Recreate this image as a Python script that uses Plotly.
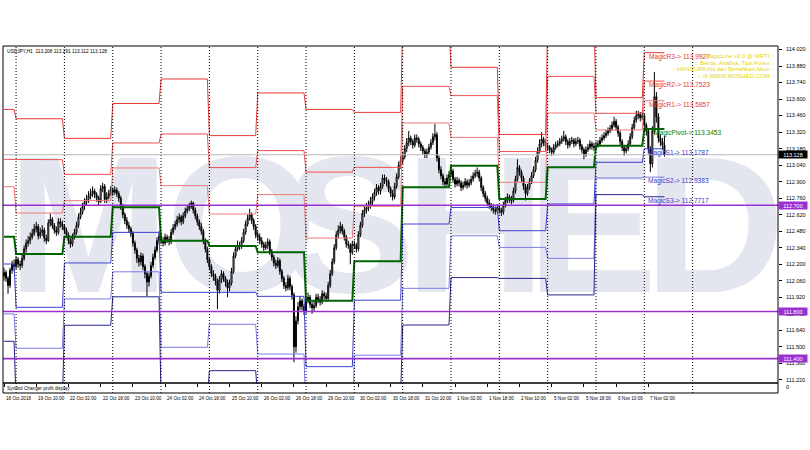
import plotly.graph_objects as go

# ---------------- data (USDJPY H1, one entry per hourly bar) ----------------
bar_open = [
112.10,112.13,112.08,112.02,112.15,112.20,112.18,112.24,112.20,112.19,
112.25,112.33,112.38,112.40,112.43,112.46,112.50,112.52,112.44,112.47,
112.49,112.42,112.40,112.55,112.58,112.53,112.49,112.47,112.56,112.54,
112.52,112.49,112.45,112.40,112.37,112.43,112.47,112.53,112.60,112.64,
112.69,112.73,112.75,112.78,112.80,112.82,112.79,112.76,112.73,112.84,
112.86,112.75,112.77,112.80,112.83,112.81,112.83,112.80,112.76,112.69,
112.62,112.57,112.53,112.50,112.46,112.38,112.32,112.25,112.22,112.27,
112.18,112.12,112.05,112.10,112.19,112.26,112.32,112.40,112.44,112.40,
112.38,112.43,112.41,112.39,112.47,112.51,112.54,112.58,112.60,112.56,
112.61,112.65,112.67,112.69,112.72,112.66,112.61,112.56,112.52,112.48,
112.40,112.33,112.24,112.18,112.12,112.10,112.06,111.98,112.07,112.12,
112.08,112.05,112.00,112.04,112.14,112.27,112.33,112.36,112.35,112.40,
112.47,112.54,112.59,112.62,112.57,112.52,112.45,112.43,112.40,112.37,
112.34,112.36,112.39,112.31,112.26,112.21,112.19,112.23,112.14,112.08,
112.02,112.00,112.08,112.01,111.94,111.50,111.72,111.84,111.89,111.84,
111.80,111.90,111.92,111.86,111.83,111.85,111.92,111.90,111.88,111.95,
111.93,111.91,112.02,112.12,112.22,112.34,112.45,112.49,112.52,112.48,
112.43,112.37,112.36,112.30,112.37,112.36,112.33,112.45,112.53,112.63,
112.66,112.68,112.70,112.73,112.77,112.81,112.85,112.82,112.86,112.93,
112.91,112.90,112.84,112.80,112.77,112.86,112.94,113.04,113.08,113.11,
113.18,113.23,113.27,113.24,113.21,113.27,113.26,113.22,113.19,113.16,
113.13,113.15,113.19,113.23,113.28,113.30,113.10,113.00,112.95,112.90,
112.88,112.93,112.96,112.99,112.92,112.88,112.91,112.89,112.85,112.87,
112.90,112.87,112.89,112.92,112.95,112.97,112.98,112.93,112.85,112.80,
112.76,112.72,112.70,112.68,112.66,112.65,112.68,112.66,112.64,112.70,
112.74,112.77,112.75,112.74,112.82,112.92,113.02,112.98,112.93,112.86,
112.80,112.85,112.90,112.95,113.00,113.08,113.16,113.22,113.26,113.23,
113.20,113.19,113.17,113.15,113.19,113.21,113.22,113.24,113.26,113.28,
113.24,113.21,113.24,113.25,113.22,113.24,113.25,113.20,113.17,113.13,
113.17,113.19,113.22,113.20,113.19,113.21,113.22,113.25,113.27,113.29,
113.31,113.33,113.35,113.38,113.41,113.36,113.31,113.24,113.19,113.16,
113.18,113.22,113.28,113.36,113.42,113.46,113.47,113.44,113.46,113.38,
113.33,113.18,113.05,113.33,113.62,113.45,113.27,113.24,113.208]

bar_high = [
112.17,112.15,112.10,112.17,112.23,112.24,112.27,112.26,112.23,112.28,
112.36,112.41,112.44,112.47,112.50,112.54,112.56,112.54,112.51,112.53,
112.51,112.45,112.58,112.63,112.60,112.55,112.52,112.59,112.59,112.57,
112.54,112.51,112.47,112.42,112.46,112.50,112.56,112.63,112.68,112.72,
112.76,112.79,112.82,112.84,112.86,112.84,112.81,112.78,112.87,112.89,
112.88,112.81,112.83,112.86,112.85,112.86,112.85,112.82,112.78,112.71,
112.64,112.60,112.56,112.52,112.48,112.40,112.34,112.28,112.30,112.29,
112.20,112.14,112.13,112.22,112.29,112.35,112.43,112.48,112.46,112.43,
112.46,112.45,112.44,112.50,112.54,112.57,112.61,112.63,112.62,112.64,
112.68,112.70,112.72,112.74,112.73,112.68,112.63,112.58,112.55,112.50,
112.42,112.35,112.26,112.20,112.15,112.12,112.08,112.10,112.15,112.14,
112.10,112.07,112.07,112.17,112.30,112.36,112.40,112.39,112.43,112.50,
112.57,112.62,112.67,112.64,112.59,112.54,112.48,112.46,112.43,112.39,
112.39,112.42,112.41,112.33,112.28,112.24,112.26,112.25,112.16,112.10,
112.05,112.11,112.10,112.03,111.96,111.76,111.88,111.93,111.91,111.86,
111.93,111.96,111.94,111.88,111.89,111.95,111.95,111.93,111.98,111.97,
111.96,112.05,112.15,112.25,112.37,112.48,112.53,112.56,112.54,112.50,
112.45,112.40,112.38,112.40,112.40,112.38,112.48,112.56,112.66,112.70,
112.72,112.74,112.77,112.80,112.84,112.88,112.87,112.89,112.96,112.96,
112.94,112.92,112.86,112.83,112.89,112.97,113.07,113.12,113.15,113.21,
113.27,113.33,113.29,113.26,113.30,113.30,113.28,113.24,113.21,113.18,
113.18,113.22,113.26,113.31,113.39,113.32,113.12,113.03,112.97,112.93,
112.96,112.99,113.03,113.01,112.94,112.94,112.93,112.91,112.90,112.93,
112.92,112.92,112.95,112.98,113.00,113.02,113.00,112.95,112.87,112.82,
112.78,112.75,112.72,112.71,112.69,112.71,112.70,112.68,112.73,112.77,
112.80,112.79,112.78,112.85,112.95,113.09,113.04,113.00,112.95,112.88,
112.88,112.93,112.98,113.03,113.11,113.19,113.26,113.32,113.28,113.25,
113.23,113.21,113.19,113.22,113.24,113.25,113.27,113.29,113.33,113.30,
113.26,113.27,113.28,113.27,113.27,113.28,113.27,113.22,113.19,113.20,
113.22,113.25,113.24,113.23,113.24,113.25,113.28,113.30,113.32,113.34,
113.36,113.38,113.41,113.45,113.43,113.38,113.33,113.26,113.21,113.21,
113.25,113.31,113.39,113.45,113.50,113.50,113.49,113.49,113.48,113.40,
113.35,113.20,113.37,113.83,113.66,113.48,113.30,113.27,113.291]

bar_low = [
112.06,112.05,111.95,112.00,112.12,112.14,112.16,112.17,112.15,112.17,
112.23,112.30,112.35,112.37,112.41,112.44,112.47,112.41,112.42,112.44,
112.39,112.37,112.39,112.52,112.50,112.46,112.44,112.45,112.51,112.49,
112.46,112.42,112.37,112.34,112.35,112.41,112.45,112.51,112.58,112.62,
112.66,112.70,112.72,112.75,112.77,112.76,112.73,112.70,112.72,112.81,
112.72,112.72,112.75,112.78,112.78,112.79,112.77,112.73,112.66,112.59,
112.54,112.50,112.47,112.43,112.35,112.29,112.21,112.18,112.19,112.15,
112.08,111.93,112.01,112.08,112.17,112.24,112.30,112.37,112.37,112.35,
112.36,112.38,112.36,112.37,112.45,112.49,112.52,112.55,112.53,112.54,
112.59,112.63,112.65,112.67,112.63,112.58,112.53,112.49,112.45,112.37,
112.30,112.21,112.15,112.09,112.06,112.02,111.82,111.95,112.04,112.05,
112.01,111.92,111.97,112.02,112.12,112.25,112.31,112.32,112.33,112.38,
112.45,112.52,112.57,112.54,112.49,112.42,112.40,112.37,112.34,112.31,
112.32,112.33,112.28,112.23,112.18,112.16,112.17,112.11,112.05,111.99,
111.97,111.98,111.98,111.90,111.37,111.45,111.69,111.81,111.81,111.77,
111.78,111.87,111.83,111.78,111.80,111.83,111.87,111.85,111.86,111.90,
111.88,111.89,112.00,112.10,112.20,112.32,112.42,112.46,112.45,112.40,
112.34,112.33,112.20,112.28,112.33,112.30,112.31,112.43,112.51,112.60,
112.63,112.65,112.67,112.70,112.74,112.78,112.79,112.79,112.84,112.88,
112.86,112.81,112.77,112.74,112.75,112.84,112.92,113.01,113.05,113.09,
113.15,113.20,113.21,113.18,113.19,113.23,113.19,113.16,113.13,113.10,
113.10,113.13,113.17,113.21,113.25,113.07,112.97,112.92,112.87,112.85,
112.86,112.90,112.94,112.89,112.85,112.86,112.86,112.82,112.83,112.85,
112.84,112.85,112.87,112.90,112.93,112.94,112.90,112.82,112.77,112.73,
112.69,112.67,112.65,112.63,112.62,112.63,112.63,112.61,112.62,112.68,
112.72,112.72,112.71,112.72,112.80,112.90,112.95,112.90,112.83,112.74,
112.78,112.83,112.88,112.93,112.98,113.06,113.14,113.19,113.20,113.17,
113.16,113.14,113.12,113.13,113.17,113.19,113.20,113.22,113.24,113.21,
113.18,113.19,113.22,113.19,113.20,113.22,113.17,113.14,113.09,113.11,
113.15,113.17,113.17,113.16,113.17,113.19,113.20,113.23,113.25,113.27,
113.29,113.31,113.33,113.36,113.33,113.28,113.21,113.16,113.12,113.14,
113.16,113.20,113.26,113.34,113.40,113.43,113.41,113.42,113.35,113.29,
113.14,112.98,113.02,113.30,113.40,113.23,113.20,113.17,113.112]

bar_close = [
112.13,112.08,112.02,112.15,112.20,112.18,112.24,112.20,112.19,112.25,
112.33,112.38,112.40,112.43,112.46,112.50,112.52,112.44,112.47,112.49,
112.42,112.40,112.55,112.58,112.53,112.49,112.47,112.56,112.54,112.52,
112.49,112.45,112.40,112.37,112.43,112.47,112.53,112.60,112.64,112.69,
112.73,112.75,112.78,112.80,112.82,112.79,112.76,112.73,112.84,112.86,
112.75,112.77,112.80,112.83,112.81,112.83,112.80,112.76,112.69,112.62,
112.57,112.53,112.50,112.46,112.38,112.32,112.25,112.22,112.27,112.18,
112.12,112.05,112.10,112.19,112.26,112.32,112.40,112.44,112.40,112.38,
112.43,112.41,112.39,112.47,112.51,112.54,112.58,112.60,112.56,112.61,
112.65,112.67,112.69,112.72,112.66,112.61,112.56,112.52,112.48,112.40,
112.33,112.24,112.18,112.12,112.10,112.06,111.98,112.07,112.12,112.08,
112.05,112.00,112.04,112.14,112.27,112.33,112.36,112.35,112.40,112.47,
112.54,112.59,112.62,112.57,112.52,112.45,112.43,112.40,112.37,112.34,
112.36,112.39,112.31,112.26,112.21,112.19,112.23,112.14,112.08,112.02,
112.00,112.08,112.01,111.94,111.50,111.72,111.84,111.89,111.84,111.80,
111.90,111.92,111.86,111.83,111.85,111.92,111.90,111.88,111.95,111.93,
111.91,112.02,112.12,112.22,112.34,112.45,112.49,112.52,112.48,112.43,
112.37,112.36,112.30,112.37,112.36,112.33,112.45,112.53,112.63,112.66,
112.68,112.70,112.73,112.77,112.81,112.85,112.82,112.86,112.93,112.91,
112.90,112.84,112.80,112.77,112.86,112.94,113.04,113.08,113.11,113.18,
113.23,113.27,113.24,113.21,113.27,113.26,113.22,113.19,113.16,113.13,
113.15,113.19,113.23,113.28,113.30,113.10,113.00,112.95,112.90,112.88,
112.93,112.96,112.99,112.92,112.88,112.91,112.89,112.85,112.87,112.90,
112.87,112.89,112.92,112.95,112.97,112.98,112.93,112.85,112.80,112.76,
112.72,112.70,112.68,112.66,112.65,112.68,112.66,112.64,112.70,112.74,
112.77,112.75,112.74,112.82,112.92,113.02,112.98,112.93,112.86,112.80,
112.85,112.90,112.95,113.00,113.08,113.16,113.22,113.26,113.23,113.20,
113.19,113.17,113.15,113.19,113.21,113.22,113.24,113.26,113.28,113.24,
113.21,113.24,113.25,113.22,113.24,113.25,113.20,113.17,113.13,113.17,
113.19,113.22,113.20,113.19,113.21,113.22,113.25,113.27,113.29,113.31,
113.33,113.35,113.38,113.41,113.36,113.31,113.24,113.19,113.16,113.18,
113.22,113.28,113.36,113.42,113.46,113.47,113.44,113.46,113.38,113.33,
113.18,113.05,113.33,113.62,113.45,113.27,113.24,113.21,113.128]

# time-scale labels (bar index of each label)
time_label_bars = [0, 16, 32, 48, 64, 80, 96, 112, 128, 144, 160, 176, 192,
                   208, 224, 240, 256, 272, 288, 304, 320]
time_labels = ["18 Oct 2018", "19 Oct 10:00", "22 Oct 02:00", "22 Oct 18:00",
               "23 Oct 10:00", "24 Oct 02:00", "24 Oct 18:00", "25 Oct 10:00",
               "26 Oct 02:00", "26 Oct 18:00", "29 Oct 10:00", "30 Oct 02:00",
               "30 Oct 18:00", "31 Oct 10:00", "1 Nov 02:00", "1 Nov 18:00",
               "2 Nov 10:00", "5 Nov 02:00", "5 Nov 18:00", "6 Nov 10:00",
               "7 Nov 02:00"]

price_ticks = [114.02, 113.88, 113.74, 113.60, 113.46, 113.32, 113.18, 113.04,
               112.90, 112.76, 112.62, 112.48, 112.34, 112.20, 112.06, 111.92,
               111.78, 111.64, 111.50, 111.36, 111.22]

# day separators (bar index of each day's first bar)
separator_bars = [6, 30, 54, 78, 102, 126, 150, 174, 198, 222, 246, 270, 294, 318, 342]

# daily pivot levels
day_start = [0, 6, 30, 54, 78, 102, 126, 150, 174, 198, 222, 246, 270, 294, 318]
day_end = [5, 29, 53, 77, 101, 125, 149, 173, 197, 221, 245, 269, 293, 317, 328]
R3 = [113.512, 113.433, 113.267, 113.562, 113.770, 113.290, 113.652, 113.512,
      113.487, 114.253, 113.869, 113.300, 114.253, 113.612, 113.9927]
R2 = [113.089, 113.086, 112.962, 113.228, 113.304, 113.019, 113.163, 112.981,
      113.021, 113.708, 113.629, 113.155, 113.792, 113.479, 113.7523]
R1 = [112.857, 112.634, 112.739, 113.016, 112.866, 112.626, 112.790, 112.422,
      112.691, 113.397, 113.275, 112.894, 113.482, 113.338, 113.5857]
PV = [112.434, 112.287, 112.434, 112.682, 112.400, 112.355, 112.301, 111.891,
      112.225, 112.852, 113.035, 112.753, 113.021, 113.205, 113.3453]
S1 = [112.202, 111.835, 112.211, 112.470, 111.962, 111.962, 111.928, 111.332,
      111.895, 112.541, 112.681, 112.484, 112.711, 113.064, 113.1787]
S2 = [111.779, 111.488, 111.906, 112.136, 111.496, 111.691, 111.439, 110.801,
      111.429, 111.996, 112.441, 112.343, 112.250, 112.931, 112.9383]
S3 = [111.547, 111.036, 111.683, 111.924, 111.058, 111.298, 111.066, 110.242,
      111.099, 111.685, 112.087, 112.080, 111.940, 112.790, 112.7717]

level_names = ["MagicR3", "MagicR2", "MagicR1", "MagicPivot", "MagicS1", "MagicS2", "MagicS3"]
level_series = [R3, R2, R1, PV, S1, S2, S3]
level_colors = ["#e53935", "#ef4f4f", "#f07a7a", "#006400", "#3f3fd0", "#7a7ae6", "#26268c"]
label_colors = ["#e53935", "#e53935", "#e53935", "#008000", "#3a3acc", "#3a3acc", "#3a3acc"]

hlines = [112.700, 111.800, 111.400]
current_price = 113.128

watermark_letters = ["M", "O", "S", "H", "E", "D"]
watermark_x = [42, 118, 172, 234, 292, 353]
watermark_base = 111.745
watermark_height = 1.6

n = min(len(bar_open), len(bar_high), len(bar_low), len(bar_close))
bars = list(range(n))

# ---------------- figure ----------------
fig = go.Figure()

# watermark: transparent bars carrying the letters (bar layer sits under the candles)
fig.add_trace(go.Bar(
    x=watermark_x, y=[watermark_height] * len(watermark_x),
    base=[watermark_base] * len(watermark_x), width=[60] * len(watermark_x),
    text=watermark_letters, textposition="inside", insidetextanchor="middle",
    textangle=0, constraintext="none",
    insidetextfont=dict(size=195, color="#e3e6ee", family="Liberation Sans", weight="bold"),
    marker=dict(color="rgba(0,0,0,0)", line=dict(width=0)),
    hoverinfo="skip", showlegend=False))

fig.add_trace(go.Candlestick(
    x=bars, open=bar_open[:n], high=bar_high[:n], low=bar_low[:n], close=bar_close[:n],
    increasing=dict(line=dict(color="black", width=1), fillcolor="white"),
    decreasing=dict(line=dict(color="black", width=1), fillcolor="black"),
    whiskerwidth=0, hoverinfo="skip", showlegend=False))

for name, vals, col in zip(level_names, level_series, level_colors):
    xs, ys = [], []
    for s, e, v in zip(day_start, day_end, vals):
        xs += [s, e]
        ys += [v, v]
    fig.add_trace(go.Scatter(
        x=xs, y=ys, mode="lines",
        line=dict(color=col, width=2 if name == "MagicPivot" else 1),
        hoverinfo="skip", showlegend=False))

MAIN_BOTTOM = 10 / 347.0

shapes = []
for sb in separator_bars:
    shapes.append(dict(type="line", xref="x", yref="paper", x0=sb, x1=sb, y0=0, y1=1,
                       line=dict(color="black", width=1, dash="1px,2px"), layer="above"))
shapes.append(dict(type="line", xref="paper", yref="y", x0=0, x1=1,
                   y0=current_price, y1=current_price,
                   line=dict(color="#b8b8b8", width=1)))
for h in hlines:
    shapes.append(dict(type="line", xref="paper", yref="y", x0=0, x1=1, y0=h, y1=h,
                       line=dict(color="#9b30d0", width=1.6)))
shapes.append(dict(type="rect", xref="paper", yref="paper", x0=0, x1=1, y0=MAIN_BOTTOM, y1=1,
                   line=dict(color="black", width=1), fillcolor="rgba(0,0,0,0)"))
shapes.append(dict(type="rect", xref="paper", yref="paper", x0=0, x1=1, y0=0, y1=MAIN_BOTTOM,
                   line=dict(color="black", width=1), fillcolor="rgba(0,0,0,0)"))

ann = []
# pivot labels for the current day
label_x = [319.3, 319.3, 319.3, 321.8, 319.0, 319.0, 319.0]
for name, vals, col, lx in zip(level_names, level_series, label_colors, label_x):
    ann.append(dict(x=lx, y=vals[-1], xref="x", yref="y", xanchor="left", yanchor="middle",
                    yshift=-4, showarrow=False, text=f"{name}-> {vals[-1]:.4f}",
                    font=dict(size=6.6, color=col, family="Liberation Sans")))

# price boxes on the right scale
for h in hlines:
    ann.append(dict(x=1, y=h, xref="paper", yref="y", xanchor="left", yanchor="middle",
                    xshift=0, showarrow=False, text=f"{h:.3f}", width=28, height=7,
                    bgcolor="#9b30d0", borderpad=0,
                    font=dict(size=5.5, color="white", family="Liberation Sans")))
ann.append(dict(x=1, y=current_price, xref="paper", yref="y", xanchor="left", yanchor="middle",
                showarrow=False, text=f"{current_price:.3f}", width=28, height=7,
                bgcolor="black", borderpad=0,
                font=dict(size=5.5, color="white", family="Liberation Sans")))

# time-scale labels, left-aligned at their tick like the terminal does
for tb, tl in zip(time_label_bars, time_labels):
    ann.append(dict(x=tb, y=0, xref="x", yref="paper", xanchor="left", yanchor="top",
                    xshift=0, yshift=-1, showarrow=False, text=tl,
                    font=dict(size=4.6, color="black", family="Liberation Sans")))

# header
ann.append(dict(x=0, y=1, xref="paper", yref="paper", xanchor="left", yanchor="top",
                xshift=2, yshift=-1, showarrow=False,
                text="USDJPY,H1  113.208 113.291 113.112 113.128",
                font=dict(size=4.8, color="black", family="Liberation Sans")))
# sub window
ann.append(dict(x=0, y=MAIN_BOTTOM / 2, xref="paper", yref="paper", xanchor="left",
                yanchor="middle", xshift=2, showarrow=False,
                text="Symbol Changer profit display",
                font=dict(size=4.7, color="black", family="Liberation Sans")))
ann.append(dict(x=1, y=(393 - 387) / 347.0, xref="paper", yref="paper", xanchor="left",
                yanchor="middle", xshift=6, showarrow=False, text="0",
                font=dict(size=5.5, color="black", family="Liberation Sans")))

# yellow promo text
promo = [":: MagicLine v2.0 @ MRTI ::",
         ":: Berita, Analisa, Tips Forex ::",
         ":: HANCURKAN dan Bersihkan Akun ::",
         ":: di WWW.MOSHED.COM ::"]
promo_y = [56, 63, 69.5, 75.5]
for t, py in zip(promo, promo_y):
    ann.append(dict(x=1, y=(393 - py) / 347.0, xref="paper", yref="paper", xanchor="right",
                    yanchor="middle", xshift=-1, showarrow=False, text=t,
                    font=dict(size=6, color="#e6d600", family="Liberation Sans")))

fig.update_layout(
    width=810, height=450,
    margin=dict(l=3, r=32, t=46, b=57),
    paper_bgcolor="white", plot_bgcolor="white",
    showlegend=False, barmode="overlay",
    shapes=shapes, annotations=ann,
    xaxis=dict(range=[-0.5, 384.4], anchor="y2", tickvals=time_label_bars,
               showticklabels=False, ticks="outside", ticklen=3, tickcolor="black",
               showgrid=False, zeroline=False, showline=False,
               rangeslider=dict(visible=False), fixedrange=True),
    yaxis=dict(domain=[MAIN_BOTTOM, 1], range=[111.1936, 114.0495], side="right",
               tickvals=price_ticks, tickformat=".3f", ticks="outside", ticklen=3,
               tickcolor="black", ticklabelstandoff=3,
               tickfont=dict(size=5.5, color="black", family="Liberation Sans"),
               showgrid=False, zeroline=False, showline=False, anchor="x",
               fixedrange=True),
    yaxis2=dict(domain=[0, MAIN_BOTTOM], range=[0, 1], showticklabels=False,
                showgrid=False, zeroline=False, anchor="x", fixedrange=True),
)

fig.write_html("out.html", config={"displayModeBar": False},
               post_script="document.body.style.margin='0';document.body.style.padding='0';")
